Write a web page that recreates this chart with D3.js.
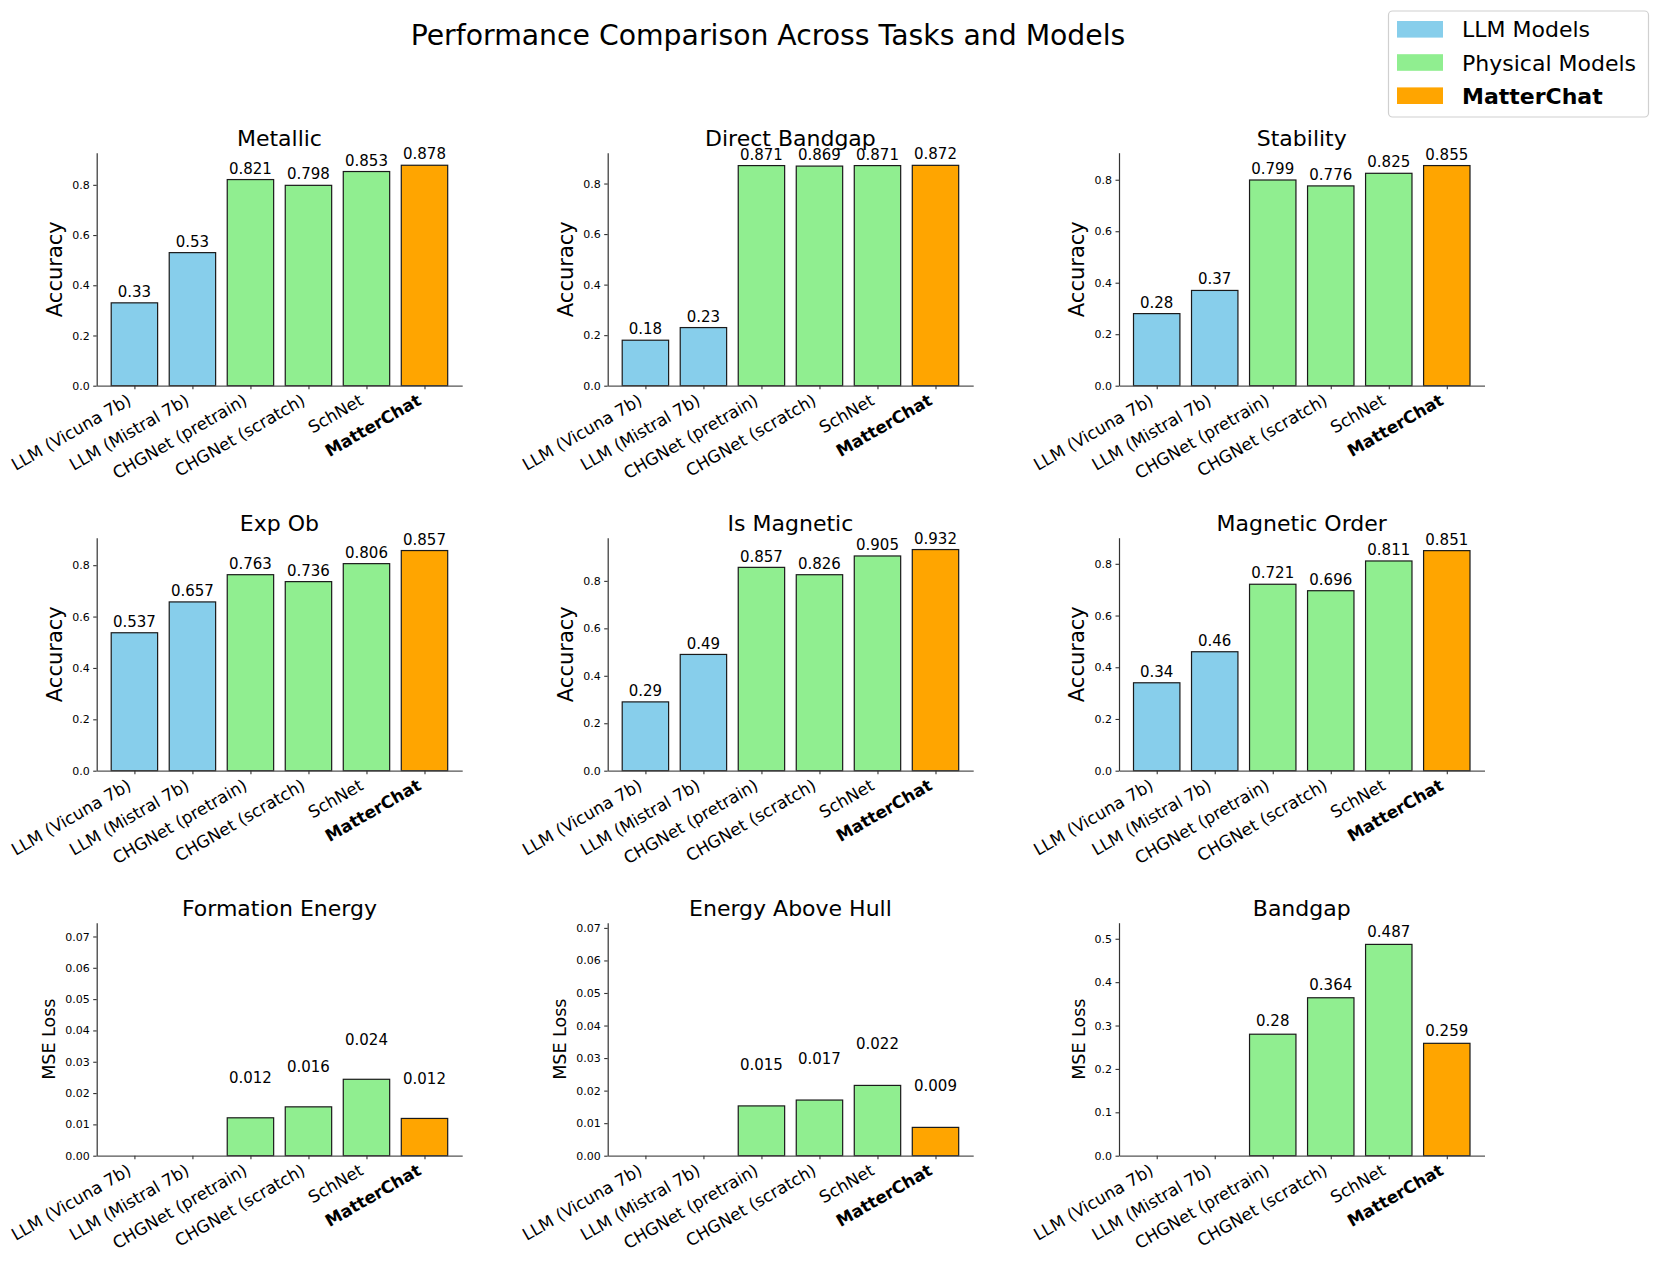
<!DOCTYPE html>
<html>
<head>
<meta charset="utf-8">
<script src="https://cdn.jsdelivr.net/npm/d3@7"></script>
<style>
  html, body { margin: 0; padding: 0; background: #fff; }
  svg { display: block; }
  text { font-family: "DejaVu Sans", sans-serif; fill: #000; }
</style>
</head>
<body>
<svg id="chart" width="1660" height="1263"></svg>
<script>
// ---------------- data ----------------
const models = ["LLM (Vicuna 7b)", "LLM (Mistral 7b)", "CHGNet (pretrain)", "CHGNet (scratch)", "SchNet", "MatterChat"];
const modelGroups = ["LLM Models", "LLM Models", "Physical Models", "Physical Models", "Physical Models", "MatterChat"];
const legendLabels = ["LLM Models", "Physical Models", "MatterChat"];
const groupColors = ["#87CEEB", "#90EE90", "#FFA500"];

const taskTitles = ["Metallic", "Direct Bandgap", "Stability", "Exp Ob", "Is Magnetic", "Magnetic Order",
                    "Formation Energy", "Energy Above Hull", "Bandgap"];
const taskMetrics = ["Accuracy", "Accuracy", "Accuracy", "Accuracy", "Accuracy", "Accuracy",
                     "MSE Loss", "MSE Loss", "MSE Loss"];

const metallic        = [0.33, 0.53, 0.821, 0.798, 0.853, 0.878];
const directBandgap   = [0.18, 0.23, 0.871, 0.869, 0.871, 0.872];
const stability       = [0.28, 0.37, 0.799, 0.776, 0.825, 0.855];
const expOb           = [0.537, 0.657, 0.763, 0.736, 0.806, 0.857];
const isMagnetic      = [0.29, 0.49, 0.857, 0.826, 0.905, 0.932];
const magneticOrder   = [0.34, 0.46, 0.721, 0.696, 0.811, 0.851];
const formationEnergy = [null, null, 0.0121, 0.0156, 0.0244, 0.0119];
const energyAboveHull = [null, null, 0.0153, 0.0171, 0.0216, 0.0087];
const bandgap         = [null, null, 0.28, 0.364, 0.487, 0.259];
const taskValues = [metallic, directBandgap, stability, expOb, isMagnetic, magneticOrder,
                    formationEnergy, energyAboveHull, bandgap];

const accTicks = [0, 0.2, 0.4, 0.6, 0.8];
const mseSmallTicks = [0, 0.01, 0.02, 0.03, 0.04, 0.05, 0.06, 0.07];
const bandgapTicks = [0, 0.1, 0.2, 0.3, 0.4, 0.5];
const taskTicks = [accTicks, accTicks, accTicks, accTicks, accTicks, accTicks, mseSmallTicks, mseSmallTicks, bandgapTicks];
const taskTickFormats = [".1f", ".1f", ".1f", ".1f", ".1f", ".1f", ".2f", ".2f", ".1f"];

const suptitle = "Performance Comparison Across Tasks and Models";

// ---------------- layout ----------------
const colLeft = [96.7, 607.7, 1119];
const rowTop = [152.7, 537.7, 922.7];
const pw = 365.5, ph = 233;
const spineColor = "#333";

const svg = d3.select("#chart");
const color = d3.scaleOrdinal().domain(legendLabels).range(groupColors);

svg.append("text")
  .attr("x", 768).attr("y", 45)
  .attr("text-anchor", "middle")
  .style("font-size", "28.3px")
  .text(suptitle);

taskTitles.forEach((title, k) => {
  const col = k % 3, row = Math.floor(k / 3);
  const left = colLeft[col], top = rowTop[row];
  const vals = taskValues[k];
  const vmax = d3.max(vals.filter(v => v != null));
  const x = d3.scaleLinear().domain([-0.65, 5.65]).range([left, left + pw]);
  const y = d3.scaleLinear().domain([0, vmax + 0.05]).range([top + ph, top]);
  const g = svg.append("g");

  // bars
  g.selectAll("rect.bar")
    .data(vals.map((v, i) => ({v, i})).filter(d => d.v != null))
    .enter().append("rect")
    .attr("class", "bar")
    .attr("x", d => x(d.i - 0.4))
    .attr("width", x(0.8) - x(0))
    .attr("y", d => y(d.v))
    .attr("height", d => y(0) - y(d.v))
    .attr("fill", d => color(modelGroups[d.i]))
    .attr("stroke", "#1a1a1a")
    .attr("stroke-width", 1.2);

  // value labels
  g.selectAll("text.val")
    .data(vals.map((v, i) => ({v, i})).filter(d => d.v != null))
    .enter().append("text")
    .attr("class", "val")
    .attr("x", d => x(d.i))
    .attr("y", d => y(d.v + 0.01) - 3.4)
    .attr("text-anchor", "middle")
    .style("font-size", "15px")
    .text(d => d3.format(".3~f")(d.v));

  // y axis
  const ya = g.append("g")
    .attr("transform", `translate(${left},0)`)
    .call(d3.axisLeft(y).tickValues(taskTicks[k]).tickFormat(d3.format(taskTickFormats[k]))
      .tickSize(3.5).tickPadding(3.5).tickSizeOuter(0));
  ya.select(".domain").attr("stroke", spineColor).attr("stroke-width", 1.2);
  ya.selectAll(".tick line").attr("stroke", spineColor).attr("stroke-width", 1.1);
  ya.selectAll(".tick text").style("font-size", "11px").style("font-family", "DejaVu Sans");

  // x axis
  const xa = g.append("g")
    .attr("transform", `translate(0,${top + ph})`)
    .call(d3.axisBottom(x).tickValues(d3.range(models.length)).tickFormat("")
      .tickSize(3.5).tickSizeOuter(0));
  xa.select(".domain").attr("stroke", "#555").attr("stroke-width", 1.2);
  xa.selectAll(".tick line").attr("stroke", spineColor).attr("stroke-width", 1.1);

  models.forEach((m, i) => {
    const px = x(i) - 2, py = top + ph + 18;
    g.append("text")
      .attr("x", px).attr("y", py)
      .attr("text-anchor", "end")
      .attr("transform", `rotate(-30,${px},${py})`)
      .style("font-size", "16.8px")
      .style("font-weight", m === "MatterChat" ? "bold" : "normal")
      .text(m);
  });

  // y label
  let minX = left;
  ya.selectAll(".tick text").each(function() {
    const b = this.getBBox();
    const ctm = this.getCTM();
    const gx = b.x + (ctm ? ctm.e : 0);
    if (gx < minX) minX = gx;
  });
  const fs = taskMetrics[k] === "Accuracy" ? 21 : 17.5;
  const bx = minX - 5.6 - 0.236 * fs;
  g.append("text")
    .attr("transform", `translate(${bx},${top + ph / 2}) rotate(-90)`)
    .attr("text-anchor", "middle")
    .style("font-size", fs + "px")
    .text(taskMetrics[k]);

  // title
  g.append("text")
    .attr("x", left + pw / 2).attr("y", top - 7)
    .attr("text-anchor", "middle")
    .style("font-size", "22px")
    .text(title);
});

// ---------------- legend ----------------
const lg = svg.append("g");
lg.append("rect")
  .attr("x", 1388.5).attr("y", 11).attr("width", 260).attr("height", 106)
  .attr("rx", 4).attr("fill", "#fff").attr("fill-opacity", 0.8)
  .attr("stroke", "#d0d0d0").attr("stroke-width", 1.2);
legendLabels.forEach((lab, i) => {
  const cy = 29.3 + i * 33.2;
  lg.append("rect")
    .attr("x", 1397).attr("y", cy - 8.3).attr("width", 46).attr("height", 16.6)
    .attr("fill", color(lab));
  lg.append("text")
    .attr("x", 1462).attr("y", cy + 8)
    .style("font-size", "22px")
    .style("font-weight", lab === "MatterChat" ? "bold" : "normal")
    .text(lab);
});
</script>
</body>
</html>
